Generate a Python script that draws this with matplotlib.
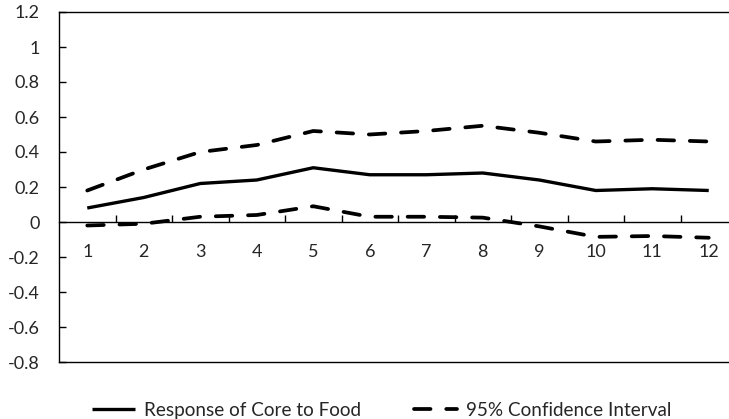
import matplotlib
matplotlib.use("Agg")
import matplotlib.pyplot as plt
from matplotlib.ticker import FixedLocator, NullFormatter, FixedFormatter

periods = [1, 2, 3, 4, 5, 6, 7, 8, 9, 10, 11, 12]
response = [0.08, 0.14, 0.22, 0.24, 0.31, 0.27, 0.27, 0.28, 0.24, 0.18, 0.19, 0.18]
upper_ci = [0.18, 0.30, 0.40, 0.44, 0.52, 0.50, 0.52, 0.55, 0.51, 0.46, 0.47, 0.46]
lower_ci = [-0.02, -0.01, 0.03, 0.04, 0.09, 0.03, 0.03, 0.025, -0.025, -0.085, -0.08, -0.09]
y_ticks = [-0.8, -0.6, -0.4, -0.2, 0, 0.2, 0.4, 0.6, 0.8, 1, 1.2]
y_labels = ["-0.8", "-0.6", "-0.4", "-0.2", "0", "0.2", "0.4", "0.6", "0.8", "1", "1.2"]

plt.rcParams['font.family'] = ['Lato', 'DejaVu Sans']
label_color = '#262626'
fs = 13

fig = plt.figure(figsize=(7.29, 4.19), dpi=100)
# plot area runs slightly past the right edge of the figure
ax = fig.add_axes([59 / 729, 57 / 419, 678 / 729, 350 / 419])

ax.plot(periods, response, color='black', lw=2.4, solid_capstyle='butt',
        label='Response of Core to Food', zorder=3)
ax.plot(periods, upper_ci, color='black', lw=2.7, dashes=(4.4, 4.2),
        dash_capstyle='round', label='95% Confidence Interval', zorder=3)
ax.plot(periods, lower_ci, color='black', lw=2.7, dashes=(4.4, 4.2),
        dash_capstyle='round', zorder=3)

ax.set_xlim(0.5, 12.5)
ax.set_ylim(-0.8, 1.2)
ax.set_yticks(y_ticks)
ax.set_yticklabels(y_labels)
ax.tick_params(axis='y', direction='in', length=5, width=1, pad=14,
               labelsize=fs, labelcolor=label_color)
ax.tick_params(axis='x', bottom=False, labelbottom=False)
for s in ax.spines.values():
    s.set_linewidth(1.0)
    s.set_color('black')

# category axis drawn through y = 0
zero_frac = (0 - (-0.8)) / (1.2 - (-0.8))
sec = ax.secondary_xaxis(zero_frac)
sec.spines['bottom'].set_linewidth(1.0)
sec.xaxis.set_major_locator(FixedLocator([p + 0.5 for p in periods[:-1]]))
sec.xaxis.set_major_formatter(NullFormatter())
sec.xaxis.set_minor_locator(FixedLocator(periods))
sec.xaxis.set_minor_formatter(FixedFormatter([str(p) for p in periods]))
sec.tick_params(axis='x', which='major', direction='in', length=5, width=1)
sec.tick_params(axis='x', which='minor', length=0, pad=16, labelsize=fs,
                labelcolor=label_color)

fig.legend(loc='center left', bbox_to_anchor=(92 / 729, 9 / 419), ncol=2,
           frameon=False, fontsize=13.6, handlelength=2.3, handletextpad=0.45,
           columnspacing=2.8, borderaxespad=0.0, borderpad=0.0,
           labelcolor=label_color)

fig.savefig('out.png', dpi=100)
